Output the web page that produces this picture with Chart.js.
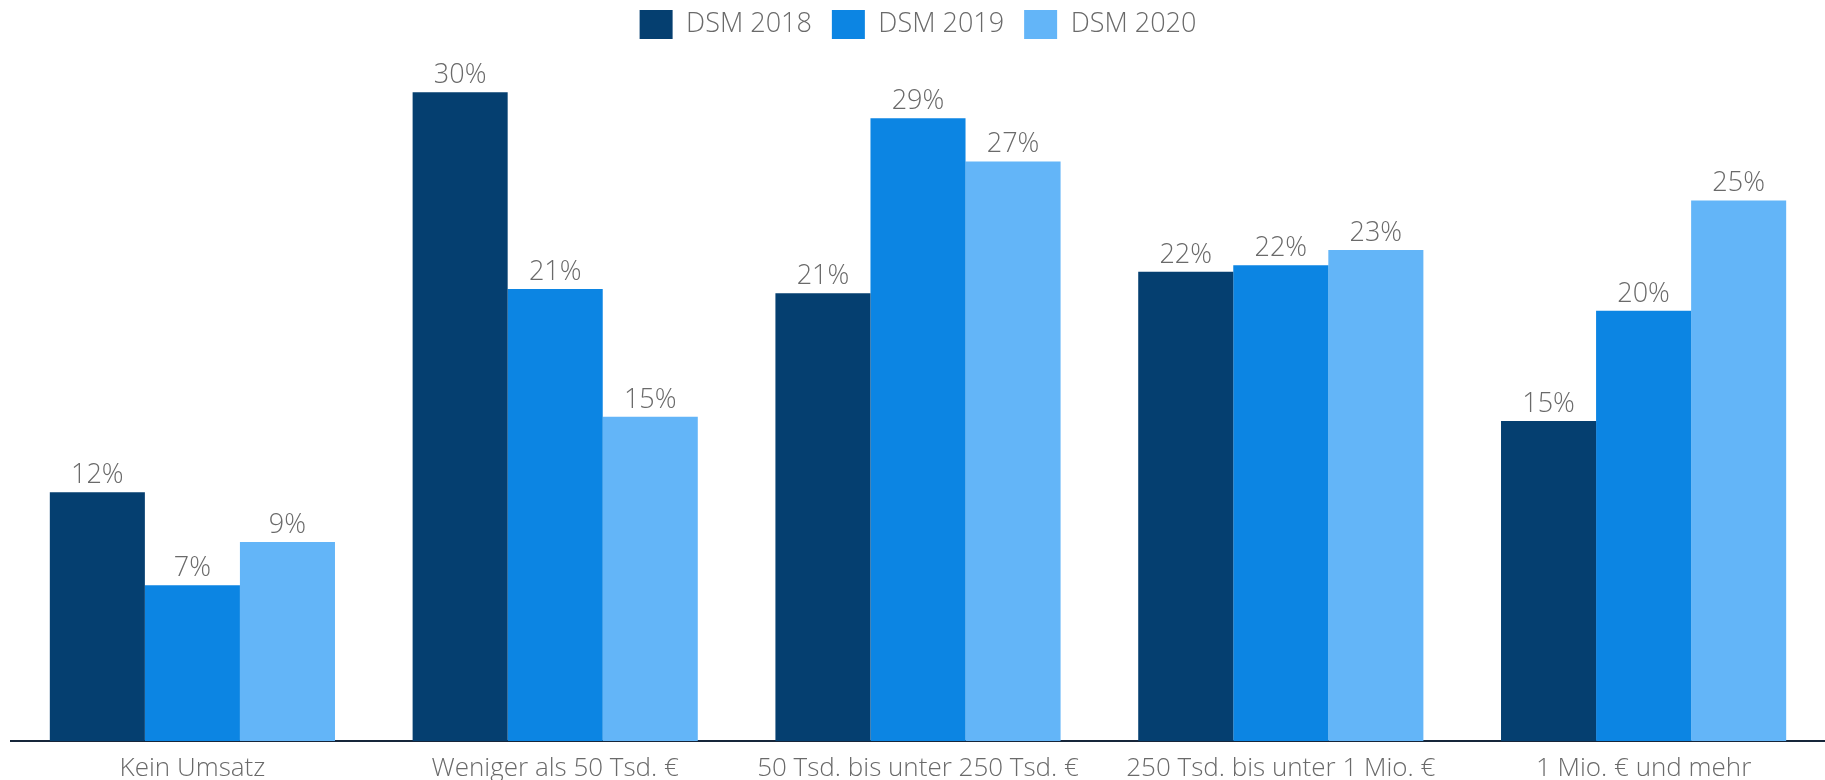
<!DOCTYPE html>
<html lang="de">
<head>
<meta charset="utf-8">
<title>DSM Umsatz</title>
<script src="https://cdn.jsdelivr.net/npm/chart.js@4"></script>
<style>
  html, body { margin: 0; padding: 0; background: #fff; overflow: hidden; }
  .wrap { position: absolute; left: 0; top: -10px; width: 1825px; height: 790px; }
</style>
</head>
<body>
<div class="wrap"><canvas id="chart"></canvas></div>
<script>
const categories = ['Kein Umsatz', 'Weniger als 50 Tsd. €', '50 Tsd. bis unter 250 Tsd. €', '250 Tsd. bis unter 1 Mio. €', '1 Mio. € und mehr'];
const seriesNames = ['DSM 2018', 'DSM 2019', 'DSM 2020'];
const dsm2018 = [11.5, 30, 20.7, 21.7, 14.8];
const dsm2019 = [7.2, 20.9, 28.8, 22, 19.9];
const dsm2020 = [9.2, 15, 26.8, 22.7, 25];
const colors = ['#053f70', '#0c85e3', '#63b5f8'];

const FONT = "'Open Sans', sans-serif";
const GREY = '#6a6a6a';

// Werte über den Balken
const topLabelPlugin = {
    id: 'topLabel',
    afterDatasetsDraw(chart) {
        const { ctx } = chart;
        chart.data.datasets.forEach((ds, d) => {
            chart.getDatasetMeta(d).data.forEach((bar, i) => {
                ctx.save();
                ctx.fillStyle = GREY;
                ctx.font = `300 27px ${FONT}`;
                ctx.textAlign = 'center';
                ctx.textBaseline = 'alphabetic';
                ctx.fillText(Math.round(ds.data[i]) + '%', bar.x, bar.y - 9);
                ctx.restore();
            });
        });
    }
};

new Chart(document.getElementById('chart'), {
    type: 'bar',
    plugins: [topLabelPlugin],
    data: {
        labels: categories,
        datasets: [dsm2018, dsm2019, dsm2020].map((data, i) => ({
            label: seriesNames[i],
            data,
            backgroundColor: colors[i],
            borderWidth: 0,
            categoryPercentage: 0.786,
            barPercentage: 1,
        }))
    },
    options: {
        responsive: true,
        maintainAspectRatio: false,
        animation: false,
        layout: { padding: { left: 11, right: 0, top: 0, bottom: 0 } },
        scales: {
            x: {
                grid: { display: false, drawTicks: false },
                border: { display: true, color: '#17263a', width: 2 },
                ticks: {
                    color: GREY,
                    padding: 12,
                    maxRotation: 0,
                    autoSkip: false,
                    font: { family: FONT, size: 26, weight: '300' },
                },
                afterFit(scale) { scale.height = 39; }
            },
            y: {
                display: false,
                min: 0,
                max: 32,
            }
        },
        plugins: {
            legend: {
                position: 'top',
                labels: {
                    boxWidth: 33,
                    boxHeight: 29,
                    padding: 20,
                    color: GREY,
                    font: { family: FONT, size: 27, weight: '300' },
                }
            },
            tooltip: { enabled: false }
        }
    }
});
</script>
</body>
</html>
